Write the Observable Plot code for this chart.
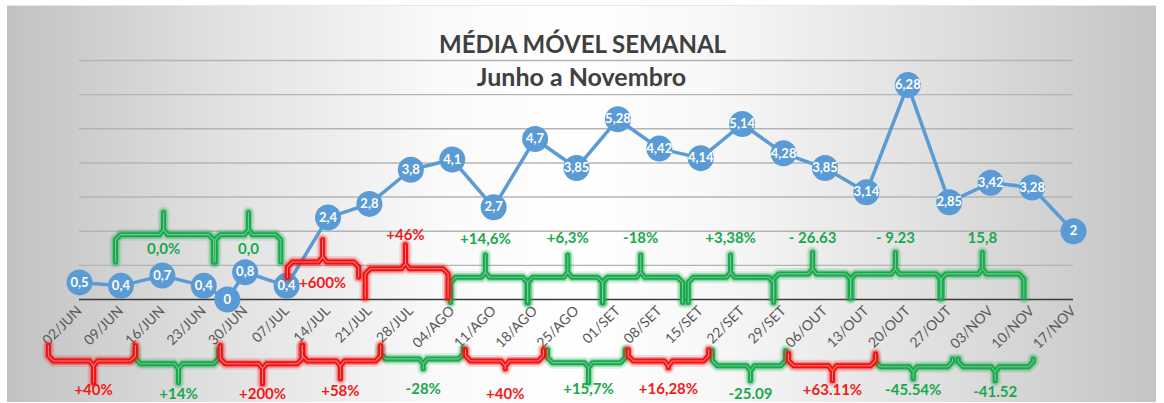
<!DOCTYPE html>
<html>
<head>
<meta charset="utf-8">
<script src="https://cdn.jsdelivr.net/npm/d3@7"></script>
<script src="https://cdn.jsdelivr.net/npm/@observablehq/plot@0.6"></script>
<style>
  body { margin: 0; background: #fff; }
  #wrap { position: relative; width: 1164px; height: 403px; background: #fff; overflow: hidden; }
  #bg { position: absolute; left: 7px; top: 5px; width: 1149px; height: 396px;
        background: linear-gradient(to right, #c2c2c2 0%, #e0e0e0 18%, #fafafa 38%, #ffffff 50%, #f7f7f7 62%, #dedede 82%, #c4c4c4 100%);
        border-top: 1px solid #e6e6e6; }
  #chart { position: absolute; left: 0; top: 0; }
</style>
</head>
<body>
<div id="wrap"><div id="bg"></div><div id="chart"></div></div>
<script>
// ---- data ----
const weeks = ["02/JUN","09/JUN","16/JUN","23/JUN","30/JUN","07/JUL","14/JUL","21/JUL","28/JUL","04/AGO",
  "11/AGO","18/AGO","25/AGO","01/SET","08/SET","15/SET","22/SET","29/SET","06/OUT","13/OUT",
  "20/OUT","27/OUT","03/NOV","10/NOV","17/NOV"];
// position of each point, in weeks from 02/JUN (one extra point between 23/JUN and 30/JUN)
const pointWeek = [0,1,2,3,3.57,4,5,6,7,8,9,10,11,12,13,14,15,16,17,18,19,20,21,22,23,24];
const mediaMovel = [0.5,0.4,0.7,0.4,0,0.8,0.4,2.4,2.8,3.8,4.1,2.7,4.7,3.85,5.28,4.42,4.14,5.14,4.28,3.85,3.14,6.28,2.85,3.42,3.28,2];

// comparison braces above the axis (span in weeks)
const topText = ["0,0%","0,0","+600%","+46%","+14,6%","+6,3%","-18%","+3,38%","- 26.63","- 9.23","15,8"];
const topKind = ["g","g","r","r","g","g","g","g","g","g","g"];
const topFrom = [0.87,3.28,5.02,6.9,8.96,10.82,12.63,14.7,16.76,18.62,20.8];
const topTo   = [3.24,4.86,6.74,8.9,10.82,12.63,14.56,16.76,18.62,20.8,22.8];
const topMid  = [2.03,4.08,5.87,7.87,9.8,11.79,13.55,15.72,17.7,19.7,21.8];

// comparison braces below the axis labels (span in weeks)
const botText = ["+40%","+14%","+200%","+58%","-28%","+40%","+15,7%","+16,28%","-25.09","+63.11%","-45.54%","-41.52"];
const botKind = ["r","g","r","r","g","r","g","r","g","r","g","g"];
const botFrom = [-0.75,1.35,3.4,5.38,7.27,9.32,11.3,13.25,15.28,17.12,19.22,21.22];
const botTo   = [1.35,3.36,5.38,7.27,9.27,11.2,13.18,15.19,17.05,19.22,21.08,23.03];
const botMid  = [0.34,2.39,4.42,6.3,8.3,10.28,12.29,14.22,16.2,18.18,20.13,22.11];

// ---- layout (vertical levels of braces in y units) ----
const topLevels = [ // [end, bar, peak, label]
  [1.1,1.9,2.55,1.47],[1.1,1.9,2.55,1.47],[0.65,1.1,1.75,0.47],[0.05,0.9,1.6,1.88],
  [-0.09,0.65,1.3,1.78],[-0.09,0.65,1.3,1.8],[-0.09,0.65,1.3,1.79],[-0.09,0.65,1.3,1.8],
  [0.05,0.75,1.38,1.79],[0.05,0.75,1.38,1.8],[0.05,0.75,1.38,1.8]];
const botLevels = [
  [-1.35,-1.8,-2.44,-2.66],[-1.47,-1.88,-2.44,-2.76],[-1.35,-1.88,-2.47,-2.78],[-1.35,-1.8,-2.32,-2.68],
  [-1.44,-1.74,-2.03,-2.62],[-1.47,-1.8,-2.03,-2.76],[-1.47,-1.85,-2.44,-2.62],[-1.47,-1.8,-2.0,-2.62],
  [-1.5,-1.94,-2.38,-2.76],[-1.59,-1.94,-2.38,-2.66],[-1.74,-1.97,-2.32,-2.66],[-1.74,-1.97,-2.38,-2.72]];

const RED = "#f01010", GREEN = "#17a84b", RED_TXT = "#f21a1a", GREEN_TXT = "#18a94c";
const BLUE = "#5b9bd5";

const points = pointWeek.map((w, i) => ({w, v: mediaMovel[i]}));

function brace(a, b, c, lv, id, kind) {
  const [e, m, p] = lv;
  const s = Math.sign(e - m);
  const dx = 0.12, dy = 0.15;
  return [[a,e],[a,m+s*dy],[a+dx,m],[c-dx*0.8,m],[c,m-s*dy],[c,p],[c,m-s*dy],[c+dx*0.8,m],[b-dx,m],[b,m+s*dy],[b,e]]
    .map(([x,y]) => ({x, y, id, kind}));
}
const braces = [];
topText.forEach((t, i) => braces.push(...brace(topFrom[i], topTo[i], topMid[i], topLevels[i], "t"+i, topKind[i])));
botText.forEach((t, i) => braces.push(...brace(botFrom[i], botTo[i], botMid[i], botLevels[i], "b"+i, botKind[i])));
const labels = [
  ...topText.map((t, i) => ({x: topMid[i], y: topLevels[i][3], t, kind: topKind[i]})),
  ...botText.map((t, i) => ({x: botMid[i], y: botLevels[i][3], t, kind: botKind[i]}))
];

function braceMarks(kind, col, inner) {
  const data = braces.filter(d => d.kind === kind);
  const o = {x: "x", y: "y", z: "id", stroke: col, strokeLinejoin: "round", strokeLinecap: "round"};
  return [
    Plot.line(data, {...o, strokeWidth: 12, strokeOpacity: 0.15}),
    Plot.line(data, {...o, strokeWidth: 8, strokeOpacity: 0.35}),
    Plot.line(data, {...o, strokeWidth: 5}),
    Plot.line(data, {...o, stroke: inner, strokeWidth: 1.1, strokeOpacity: 0.8})
  ];
}

const fmt = v => String(v).replace(".", ",");

const chart = Plot.plot({
  width: 1164,
  height: 403,
  marginLeft: 79,
  marginRight: 91,
  marginTop: 60,
  marginBottom: 104,
  style: "background: transparent; font-family: Lato, 'Open Sans', sans-serif;",
  x: {type: "linear", domain: [0, 24], axis: null},
  y: {domain: [0, 7], axis: null},
  marks: [
    Plot.ruleY(d3.range(1, 8), {stroke: "#b4b4b4", strokeWidth: 1.4}),
    Plot.ruleY([0], {stroke: "#3a3a3a", strokeWidth: 1.6}),
    Plot.axisX({ticks: d3.range(25), tickFormat: i => weeks[i], tickRotate: -45, tickSize: 0, tickPadding: 9,
      fontSize: 14, fill: "#595959", anchor: "bottom", label: null}),
    Plot.text(["MÉDIA MÓVEL SEMANAL"], {frameAnchor: "top", dx: 6, dy: -25, fontSize: 24, fontWeight: "bold", fill: "#404040"}),
    Plot.text(["Junho a Novembro"], {frameAnchor: "top", dx: 5, dy: 8, fontSize: 25, fontWeight: "bold", fill: "#404040"}),
    Plot.line(points, {x: "w", y: "v", stroke: BLUE, strokeWidth: 3.5}),
    Plot.dot(points, {x: "w", y: "v", r: 13, fill: BLUE}),
    Plot.text(points, {x: "w", y: "v", text: d => fmt(d.v), fill: "white", fontWeight: "bold", fontSize: 13}),
    ...braceMarks("g", GREEN, "#7fd69c"),
    ...braceMarks("r", RED, "#ff9a9a"),
    Plot.text(labels.filter(d => d.kind === "g"), {x: "x", y: "y", text: "t", fill: GREEN_TXT, fontWeight: "bold", fontSize: 15}),
    Plot.text(labels.filter(d => d.kind === "r"), {x: "x", y: "y", text: "t", fill: RED_TXT, fontWeight: "bold", fontSize: 15})
  ]
});
document.getElementById("chart").appendChild(chart);
</script>
</body>
</html>
